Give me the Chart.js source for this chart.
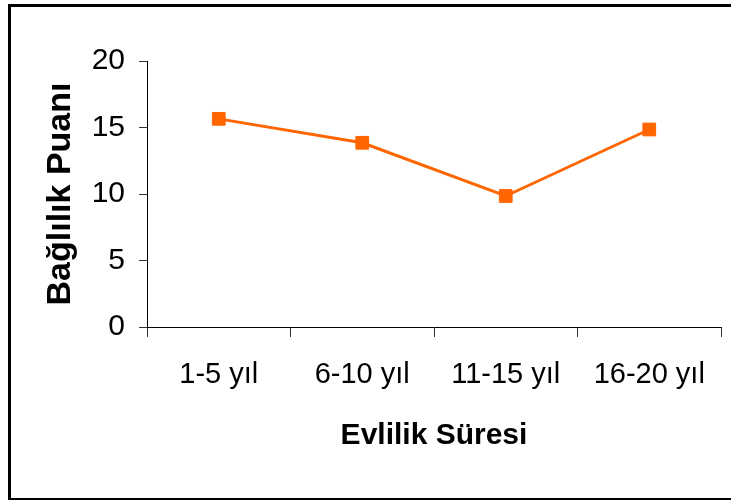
<!DOCTYPE html>
<html>
<head>
<meta charset="utf-8">
<script src="https://cdn.jsdelivr.net/npm/chart.js@4"></script>
<style>
    html, body { margin: 0; padding: 0; background: #fff; }
    #wrap { position: relative; width: 731px; height: 500px; overflow: hidden; }
    #frame { position: absolute; left: 8px; top: 4px; width: 760px; height: 491px; border: 3px solid #000; }
    #chart { position: absolute; left: 0; top: 0; }
</style>
</head>
<body>
<div id="wrap">
    <div id="frame"></div>
    <canvas id="chart" width="731" height="500"></canvas>
</div>
<script>
// chart data
const categories = ['1-5 yıl', '6-10 yıl', '11-15 yıl', '16-20 yıl'];
const scores = [15.65, 13.85, 9.85, 14.85];
const yTicks = [0, 5, 10, 15, 20];

const sans = "'Liberation Sans', Arial, sans-serif";

document.addEventListener('DOMContentLoaded', () => {
    const ctx = document.querySelector('#chart').getContext('2d');

    new Chart(ctx, {
        type: 'line',
        data: {
            labels: categories,
            datasets: [{
                data: scores,
                borderColor: '#FF6600',
                backgroundColor: '#FF6600',
                borderWidth: 3,
                pointStyle: 'rect',
                pointRadius: 9,
                pointBorderWidth: 1,
                tension: 0
            }]
        },
        options: {
            responsive: false,
            animation: false,
            layout: { padding: { top: 61, right: 7, left: 0, bottom: 0 } },
            plugins: { legend: { display: false }, tooltip: { enabled: false } },
            scales: {
                x: {
                    offset: true,
                    grid: { offset: true, drawOnChartArea: false, tickLength: 10, color: '#333' },
                    border: { color: '#000', width: 1 },
                    ticks: { color: '#000', padding: 21, font: { family: sans, size: 29 } },
                    title: {
                        display: true, text: 'Evlilik Süresi', color: '#000',
                        font: { family: sans, size: 30, weight: 'bold' }, padding: { top: 0, bottom: 46 }
                    },
                    afterFit: s => { s.height = 173; }
                },
                y: {
                    min: 0, max: 20,
                    afterBuildTicks: s => { s.ticks = yTicks.map(v => ({ value: v })); },
                    grid: { drawOnChartArea: false, tickLength: 8, color: '#333' },
                    border: { color: '#000', width: 1 },
                    ticks: { color: '#000', padding: 14, font: { family: sans, size: 30 } },
                    title: {
                        display: true, text: 'Bağlılık Puanı', color: '#000',
                        font: { family: sans, size: 34, weight: 'bold' },
                        padding: { top: 40, bottom: 0 }
                    },
                    afterFit: s => { s.width = 147; }
                }
            }
        }
    });
});
</script>
</body>
</html>
